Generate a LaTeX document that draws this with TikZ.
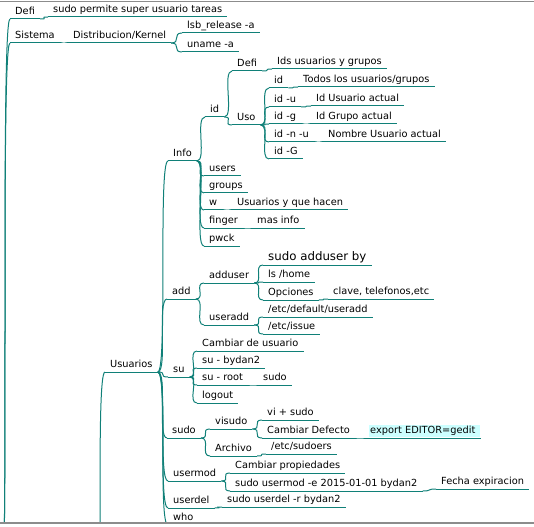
\documentclass[tikz,border=0pt]{standalone}
\usepackage{fontspec}
\setmainfont{DejaVu Sans}
\usetikzlibrary{backgrounds}
\definecolor{tealc}{RGB}{16,128,120}
\definecolor{framec}{RGB}{140,140,140}
\definecolor{cyanbg}{RGB}{204,255,255}
\tikzset{
  tline/.style={draw=tealc, line width=1pt},
  topic/.style={anchor=south west, inner xsep=5pt, inner ysep=4pt, text depth=0pt, text height=7.5pt,
    font=\fontsize{9.8}{11}\selectfont, text=black,
    append after command={(\tikzlastnode.south west) edge[tline] (\tikzlastnode.south east)}},
  bigtopic/.style={topic, font=\fontsize{11.8}{13}\selectfont, text height=9pt},
  fm/.style={tline, to path={.. controls +(10pt,0pt) and +(-10pt,0pt) .. (\tikztotarget)}},
  frameline/.style={draw=framec, line width=1.2pt}
}
\begin{document}
\begin{tikzpicture}[x=1pt,y=-1pt]
\useasboundingbox (0,0) rectangle (534,526);
\begin{scope}
\clip (0,3) rectangle (534,522);
\coordinate (rootA) at (0,620);
\coordinate (rootB) at (95,650);
% top
\node[topic] (defi) at (10,19) {Defi};
\node[topic] (defiT) at (48,17) {sudo permite super usuario tareas};
\node[topic] (sist) at (10,43) {Sistema};
\node[topic] (dist) at (68,43) {Distribucion/Kernel};
\node[topic] (lsb) at (182,33) {lsb\_release -a};
\node[topic] (uname) at (182,52) {uname -a};
% Usuarios
\node[topic] (usu) at (105,372) {Usuarios};
\node[topic] (info) at (168,161) {Info};
\node[topic] (id) at (205,117) {id};
\node[topic] (iddefi) at (232,71) {Defi};
\node[topic] (idsu) at (272,69) {Ids usuarios y grupos};
\node[topic] (uso) at (232,125) {Uso};
\node[topic] (u1) at (269,88) {id};
\node[topic] (u1t) at (298,87) {Todos los usuarios/grupos};
\node[topic] (u2) at (269,107) {id -u};
\node[topic] (u2t) at (311,106) {Id Usuario actual};
\node[topic] (u3) at (269,124) {id -g};
\node[topic] (u3t) at (311,124) {Id Grupo actual};
\node[topic] (u4) at (269,142) {id -n -u};
\node[topic] (u4t) at (323,142) {Nombre Usuario actual};
\node[topic] (u5) at (269,159) {id -G};
\node[topic] (users) at (204,176) {users};
\node[topic] (groups) at (204,193) {groups};
\node[topic] (w) at (204,210) {w};
\node[topic] (wt) at (232,210) {Usuarios y que hacen};
\node[topic] (finger) at (204,228) {finger};
\node[topic] (fingert) at (252,228) {mas info};
\node[topic] (pwck) at (204,246) {pwck};
% add
\node[topic] (add) at (167,299) {add};
\node[topic] (adduser) at (204,283) {adduser};
\node[bigtopic] (sab) at (263,265) {sudo adduser by};
\node[topic] (lshome) at (263,282) {ls /home};
\node[topic] (opc) at (263,300) {Opciones};
\node[topic] (opct) at (328,299) {clave, telefonos,etc};
\node[topic] (useradd) at (204,325) {useradd};
\node[topic] (etcdef) at (263,317) {/etc/default/useradd};
\node[topic] (etciss) at (263,334) {/etc/issue};
% su
\node[topic] (su) at (168,377) {su};
\node[topic] (cdu) at (197,351) {Cambiar de usuario};
\node[topic] (subyd) at (197,368) {su - bydan2};
\node[topic] (suroot) at (197,385) {su - root};
\node[topic] (surt) at (258,385) {sudo};
\node[topic] (logout) at (197,403) {logout};
% sudo
\node[topic] (sudo) at (167,438) {sudo};
\node[topic] (visudo) at (210,429) {visudo};
\node[topic] (vis1) at (262,420) {vi + sudo};
\node[topic] (vis2) at (262,438) {Cambiar Defecto};
\node[topic] (export) at (365,438) {export EDITOR=gedit};
\begin{scope}[on background layer]
\fill[cyanbg] ([xshift=4pt,yshift=1pt]export.south west) rectangle ([xshift=-1pt,yshift=-2.5pt]export.north east);
\end{scope}
\node[topic] (archivo) at (210,456) {Archivo};
\node[topic] (sudoers) at (266,454) {/etc/sudoers};
% usermod
\node[topic] (usermod) at (168,481) {usermod};
\node[topic] (cprop) at (230,473) {Cambiar propiedades};
\node[topic] (sum) at (230,491) {sudo usermod -e 2015-01-01 bydan2};
\node[topic] (fecha) at (436,489) {Fecha expiracion};
\node[topic] (userdel) at (168,508) {userdel};
\node[topic] (sud) at (222,507) {sudo userdel -r bydan2};
\node[topic] (who) at (168,525) {who};
% edges
\draw[fm] (rootA) to (defi.south west);
\draw[fm] (rootA) to (sist.south west);
\draw[fm] (rootB) to (usu.south west);
\draw[fm] (defi.south east) to (defiT.south west);
\draw[fm] (sist.south east) to (dist.south west);
\foreach \c in {lsb,uname} \draw[fm] (dist.south east) to (\c.south west);
\foreach \c in {info,add,su,sudo,usermod,userdel,who} \draw[fm] (usu.south east) to (\c.south west);
\foreach \c in {id,users,groups,w,finger,pwck} \draw[fm] (info.south east) to (\c.south west);
\foreach \c in {iddefi,uso} \draw[fm] (id.south east) to (\c.south west);
\draw[fm] (iddefi.south east) to (idsu.south west);
\foreach \c in {u1,u2,u3,u4,u5} \draw[fm] (uso.south east) to (\c.south west);
\draw[fm] (u1.south east) to (u1t.south west);
\draw[fm] (u2.south east) to (u2t.south west);
\draw[fm] (u3.south east) to (u3t.south west);
\draw[fm] (u4.south east) to (u4t.south west);
\draw[fm] (w.south east) to (wt.south west);
\draw[fm] (finger.south east) to (fingert.south west);
\foreach \c in {adduser,useradd} \draw[fm] (add.south east) to (\c.south west);
\foreach \c in {sab,lshome,opc} \draw[fm] (adduser.south east) to (\c.south west);
\draw[fm] (opc.south east) to (opct.south west);
\foreach \c in {etcdef,etciss} \draw[fm] (useradd.south east) to (\c.south west);
\foreach \c in {cdu,subyd,suroot,logout} \draw[fm] (su.south east) to (\c.south west);
\draw[fm] (suroot.south east) to (surt.south west);
\foreach \c in {visudo,archivo} \draw[fm] (sudo.south east) to (\c.south west);
\foreach \c in {vis1,vis2} \draw[fm] (visudo.south east) to (\c.south west);
\draw[fm] (vis2.south east) to (export.south west);
\draw[fm] (archivo.south east) to (sudoers.south west);
\foreach \c in {cprop,sum} \draw[fm] (usermod.south east) to (\c.south west);
\draw[fm] (sum.south east) to (fecha.south west);
\draw[fm] (userdel.south east) to (sud.south west);
\end{scope}
\draw[frameline] (0,1.5) -- (534,1.5);
\draw[frameline] (0,523) -- (534,523);
\end{tikzpicture}
\end{document}
